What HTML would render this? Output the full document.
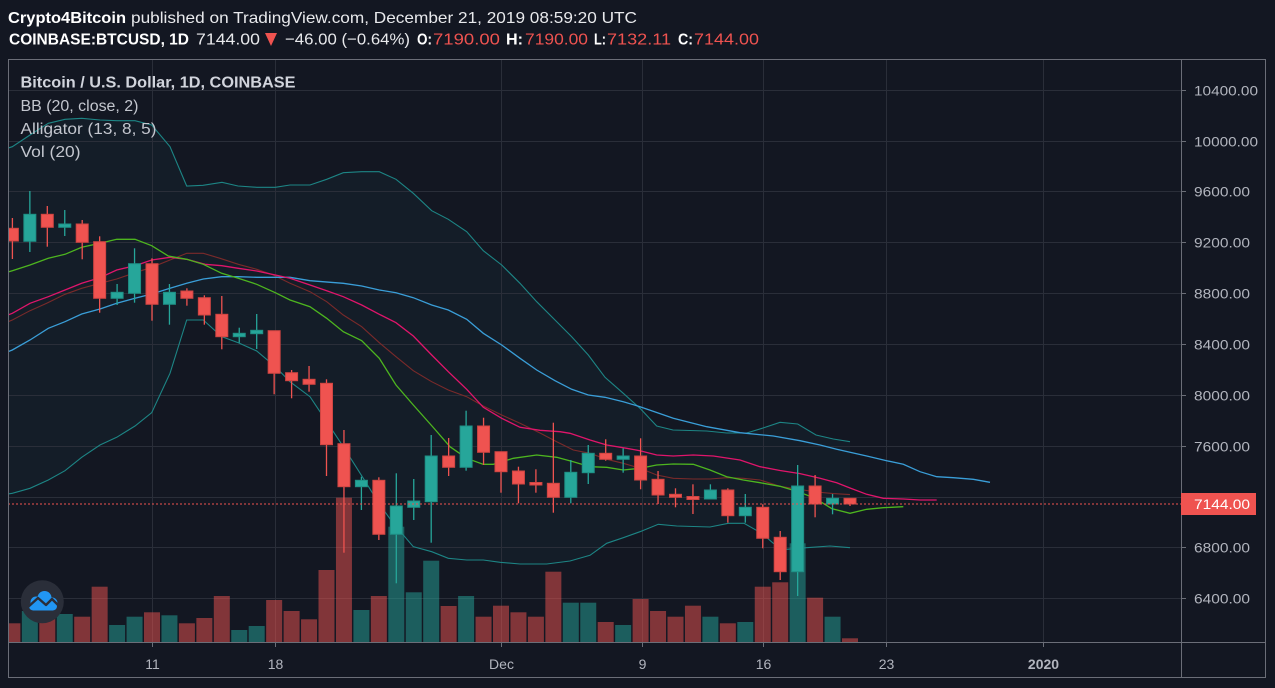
<!DOCTYPE html>
<html><head><meta charset="utf-8"><style>
html,body{margin:0;padding:0;background:#131722;}
svg{display:block;}
text{font-family:"Liberation Sans",sans-serif;}
.u{fill:#26a69a;stroke:#1f8f85;stroke-width:1}
.d{fill:#ef5350;stroke:#cf4542;stroke-width:1}
.uw{stroke:#26a69a;stroke-width:1.3}
.dw{stroke:#ef5350;stroke-width:1.3}
.vu{fill:rgba(38,166,154,0.5)}
.vd{fill:rgba(239,83,80,0.5)}
.g{stroke:#2a2e39;stroke-width:1}
.pl{fill:#b2b5be;font-size:14px}
.tl{fill:#b2b5be;font-size:14px;text-anchor:middle}
</style></head><body>
<svg width="1275" height="688" viewBox="0 0 1275 688" xmlns="http://www.w3.org/2000/svg">
<rect width="1275" height="688" fill="#131722"/>
<defs><clipPath id="pc"><rect x="9" y="60" width="1172" height="582"/></clipPath></defs>

<!-- header -->
<text x="8" y="23" font-size="16" font-weight="bold" fill="#ffffff" textLength="118" lengthAdjust="spacingAndGlyphs">Crypto4Bitcoin</text>
<text x="131" y="23" font-size="16" fill="#e8e9ec" textLength="506" lengthAdjust="spacingAndGlyphs">published on TradingView.com, December 21, 2019 08:59:20 UTC</text>
<text x="9" y="44.5" font-size="16" font-weight="bold" fill="#ffffff" textLength="180" lengthAdjust="spacingAndGlyphs">COINBASE:BTCUSD, 1D</text>
<text x="196" y="44.5" font-size="16" fill="#e8e9ec" textLength="64" lengthAdjust="spacingAndGlyphs">7144.00</text>
<polygon points="265,33 277,33 271,46" fill="#ef5350"/>
<text x="285" y="44.5" font-size="16" fill="#e8e9ec" textLength="125" lengthAdjust="spacingAndGlyphs">−46.00 (−0.64%)</text>
<text x="417" y="44.5" font-size="16" font-weight="bold" fill="#ffffff" textLength="15" lengthAdjust="spacingAndGlyphs">O:</text>
<text x="433" y="44.5" font-size="16" fill="#ef5350" textLength="67" lengthAdjust="spacingAndGlyphs">7190.00</text>
<text x="506" y="44.5" font-size="16" font-weight="bold" fill="#ffffff" textLength="17" lengthAdjust="spacingAndGlyphs">H:</text>
<text x="525" y="44.5" font-size="16" fill="#ef5350" textLength="63" lengthAdjust="spacingAndGlyphs">7190.00</text>
<text x="594" y="44.5" font-size="16" font-weight="bold" fill="#ffffff" textLength="12" lengthAdjust="spacingAndGlyphs">L:</text>
<text x="607" y="44.5" font-size="16" fill="#ef5350" textLength="64" lengthAdjust="spacingAndGlyphs">7132.11</text>
<text x="678" y="44.5" font-size="16" font-weight="bold" fill="#ffffff" textLength="15" lengthAdjust="spacingAndGlyphs">C:</text>
<text x="694" y="44.5" font-size="16" fill="#ef5350" textLength="65" lengthAdjust="spacingAndGlyphs">7144.00</text>

<g clip-path="url(#pc)">
<!-- BB fill -->
<polygon fill="#141d28" points="5,149 12.3,146.7 30,135 48.3,123.3 65,119.3 81.7,118.3 100,120 116.7,120.7 135,120.7 151.7,125 170,146.7 186.7,186 203,185.3 222,182.3 238,186 256.7,187.3 275.3,187.3 290,185 310,185 326.7,179.3 343.3,172.7 361.7,171.7 379.3,171.7 396,179.3 413.3,193.3 431.7,210.7 448.3,219.3 466.7,231.7 483.3,250.7 501.7,265 520,283.3 536.7,301.7 555,320 571.7,336.7 588.3,355 605,377.3 623.3,393.3 640,408.3 656.7,426 673,430 706.7,431 726.7,433 746.7,433 763,428 780,422.3 797.7,424 816,435 833.3,439 850,441.7 850,547.7 830,546 806.7,547.7 786.7,549.3 773.3,543.3 761.7,533.3 744,523.3 728.3,523.3 710,527 676.7,526 658.3,524.3 640,531.7 623.3,537.7 606.7,543.3 590,555.3 570,561 546.7,564 520,564 500,562.3 483.3,560 466.7,560 448.3,558.3 431.7,551.7 413.3,546.7 393.3,523.3 380,505 363.3,478.3 343.3,446.7 326.7,421.7 310,396.7 290,381.7 275.3,366.7 256.7,351 238.3,342.7 221.7,336.7 203.3,320 186.7,320 170,373.3 151.7,412.7 135,426 116.7,437.3 100,445 81.7,457.3 65,470.7 48.3,480 30,488.3 12.3,493.3 5,494.5"/>

<!-- grid -->
<g class="g">
<line x1="8" y1="90.5" x2="1181" y2="90.5"/>
<line x1="8" y1="141.5" x2="1181" y2="141.5"/>
<line x1="8" y1="191.5" x2="1181" y2="191.5"/>
<line x1="8" y1="242.5" x2="1181" y2="242.5"/>
<line x1="8" y1="293.5" x2="1181" y2="293.5"/>
<line x1="8" y1="344.5" x2="1181" y2="344.5"/>
<line x1="8" y1="395.5" x2="1181" y2="395.5"/>
<line x1="8" y1="446.5" x2="1181" y2="446.5"/>
<line x1="8" y1="497.5" x2="1181" y2="497.5"/>
<line x1="8" y1="547.5" x2="1181" y2="547.5"/>
<line x1="8" y1="598.5" x2="1181" y2="598.5"/>
<line x1="152.5" y1="59" x2="152.5" y2="642"/>
<line x1="275.5" y1="59" x2="275.5" y2="642"/>
<line x1="501.5" y1="59" x2="501.5" y2="642"/>
<line x1="642.5" y1="59" x2="642.5" y2="642"/>
<line x1="763.5" y1="59" x2="763.5" y2="642"/>
<line x1="886.5" y1="59" x2="886.5" y2="642"/>
<line x1="1043.5" y1="59" x2="1043.5" y2="642"/>
</g>

<!-- volume -->
<rect class="vd" x="4.4" y="623.3" width="16" height="18.7"/>
<rect class="vu" x="21.85" y="611" width="16" height="31"/>
<rect class="vd" x="39.3" y="616" width="16" height="26"/>
<rect class="vu" x="56.75" y="614" width="16" height="28"/>
<rect class="vd" x="74.2" y="616.7" width="16" height="25.3"/>
<rect class="vd" x="91.65" y="586.7" width="16" height="55.3"/>
<rect class="vu" x="109.1" y="625" width="16" height="17"/>
<rect class="vu" x="126.55" y="616.7" width="16" height="25.3"/>
<rect class="vd" x="144" y="612.3" width="16" height="29.7"/>
<rect class="vu" x="161.45" y="615.3" width="16" height="26.7"/>
<rect class="vd" x="178.9" y="623.3" width="16" height="18.7"/>
<rect class="vd" x="196.35" y="618" width="16" height="24"/>
<rect class="vd" x="213.8" y="596" width="16" height="46"/>
<rect class="vu" x="231.25" y="630" width="16" height="12"/>
<rect class="vu" x="248.7" y="626" width="16" height="16"/>
<rect class="vd" x="266.15" y="600" width="16" height="42"/>
<rect class="vd" x="283.6" y="611" width="16" height="31"/>
<rect class="vd" x="301.05" y="619.3" width="16" height="22.7"/>
<rect class="vd" x="318.5" y="570" width="16" height="72"/>
<rect class="vd" x="335.95" y="497.7" width="16" height="144.3"/>
<rect class="vu" x="353.4" y="610" width="16" height="32"/>
<rect class="vd" x="370.85" y="596" width="16" height="46"/>
<rect class="vu" x="388.3" y="526.7" width="16" height="115.3"/>
<rect class="vu" x="405.75" y="592.3" width="16" height="49.7"/>
<rect class="vu" x="423.2" y="560.7" width="16" height="81.3"/>
<rect class="vd" x="440.65" y="606" width="16" height="36"/>
<rect class="vu" x="458.1" y="596" width="16" height="46"/>
<rect class="vd" x="475.55" y="616.7" width="16" height="25.3"/>
<rect class="vd" x="493" y="605.7" width="16" height="36.3"/>
<rect class="vd" x="510.45" y="612.3" width="16" height="29.7"/>
<rect class="vd" x="527.9" y="616.7" width="16" height="25.3"/>
<rect class="vd" x="545.35" y="571.7" width="16" height="70.3"/>
<rect class="vu" x="562.8" y="602.7" width="16" height="39.3"/>
<rect class="vu" x="580.25" y="602.7" width="16" height="39.3"/>
<rect class="vd" x="597.7" y="622" width="16" height="20"/>
<rect class="vu" x="615.15" y="625" width="16" height="17"/>
<rect class="vd" x="632.6" y="599" width="16" height="43"/>
<rect class="vd" x="650.05" y="611" width="16" height="31"/>
<rect class="vd" x="667.5" y="616.7" width="16" height="25.3"/>
<rect class="vd" x="684.95" y="605.7" width="16" height="36.3"/>
<rect class="vu" x="702.4" y="616.7" width="16" height="25.3"/>
<rect class="vd" x="719.85" y="623.3" width="16" height="18.7"/>
<rect class="vu" x="737.3" y="622" width="16" height="20"/>
<rect class="vd" x="754.75" y="586.7" width="16" height="55.3"/>
<rect class="vd" x="772.2" y="582.3" width="16" height="59.7"/>
<rect class="vu" x="789.65" y="543.3" width="16" height="98.7"/>
<rect class="vd" x="807.1" y="597.7" width="16" height="44.3"/>
<rect class="vu" x="824.55" y="616.7" width="16" height="25.3"/>
<rect class="vd" x="842" y="638.3" width="16" height="3.7"/>

<!-- BB lines -->
<polyline fill="none" stroke="#1d8585" stroke-width="1.1" points="5,149 12.3,146.7 30,135 48.3,123.3 65,119.3 81.7,118.3 100,120 116.7,120.7 135,120.7 151.7,125 170,146.7 186.7,186 203,185.3 222,182.3 238,186 256.7,187.3 275.3,187.3 290,185 310,185 326.7,179.3 343.3,172.7 361.7,171.7 379.3,171.7 396,179.3 413.3,193.3 431.7,210.7 448.3,219.3 466.7,231.7 483.3,250.7 501.7,265 520,283.3 536.7,301.7 555,320 571.7,336.7 588.3,355 605,377.3 623.3,393.3 640,408.3 656.7,426 673,430 706.7,431 726.7,433 746.7,433 763,428 780,422.3 797.7,424 816,435 833.3,439 850,441.7"/>
<polyline fill="none" stroke="#1d8585" stroke-width="1.1" points="5,494.5 12.3,493.3 30,488.3 48.3,480 65,470.7 81.7,457.3 100,445 116.7,437.3 135,426 151.7,412.7 170,373.3 186.7,320 203.3,320 221.7,336.7 238.3,342.7 256.7,351 275.3,366.7 290,381.7 310,396.7 326.7,421.7 343.3,446.7 363.3,478.3 380,505 393.3,523.3 413.3,546.7 431.7,551.7 448.3,558.3 466.7,560 483.3,560 500,562.3 520,564 546.7,564 570,561 590,555.3 606.7,543.3 623.3,537.7 640,531.7 658.3,524.3 676.7,526 710,527 728.3,523.3 744,523.3 761.7,533.3 773.3,543.3 786.7,549.3 806.7,547.7 830,546 850,547.7"/>
<polyline fill="none" stroke="#7a2a2a" stroke-width="1.1" points="5,323 12.3,320 30,310.7 46.7,303.3 65,294.3 81.7,288.3 100,283.3 116.7,279 135,272.7 151.7,267.3 170,260 186.7,253.3 203.3,253.3 220,258.3 238.3,264.3 256.7,269.3 273.3,275 290,283.3 310,291.7 326.7,301.7 343.3,315 361.7,326.7 379.3,342.7 396,356.7 413.3,370.7 431.7,381.7 448.3,390 466.7,396.7 483.3,406 501.7,415 520,423.3 540,433 556.7,441.7 573.3,450 590,453.3 606.7,459.3 623.3,463.3 640,468.3 656.7,475 673.3,478.3 693.3,479 710,479 726.7,477.7 743.3,478.3 760,480 780,486.3 800,489.5 816.7,492 833.3,493.6 850,494.6"/>

<!-- Alligator -->
<polyline fill="none" stroke="#3a9ed8" stroke-width="1.3" points="5,353 12.3,350 30,340 48.3,328.3 65,321.7 81.7,314 100,309 116.7,303.3 135,298.3 151.7,294 170,288.3 186.7,283.3 203.3,279 221.7,276.7 238.3,276.7 256.7,277.3 275.3,277.3 290,277.3 310,280.7 343.3,283.3 361.7,286 379.3,290 396,292.7 413.3,297.7 431.7,305 448.3,310 466.7,319.3 483.3,333.3 501.7,345 520,358.3 536.7,370 555,380.7 571.7,389.3 588.3,395 605,397.3 623.3,401.7 640,406.7 656.7,412.5 673.3,418.3 706.7,426.7 740,432.7 773.3,436 800,440.7 820,445 836.7,449.3 850,452.3 866.7,456 886.7,460.7 903.3,464.3 920,471.7 936.7,476.7 953.3,477.7 973.3,479.3 990,482.3"/>
<polyline fill="none" stroke="#e0156b" stroke-width="1.3" points="5,316 12.3,313.3 30,303.3 48.3,296.7 65,290 81.7,283.3 100,277.7 116.7,270 135,265.7 151.7,260 170,257.3 186.7,259.3 205,264.3 221.7,265.7 238.3,268.3 256.7,271 275.3,275 290,278.3 310,285 326.7,290.7 343.3,296.7 361.7,305 379.3,314.3 396,322.7 413.3,336 431.7,355 448.3,371.7 466.7,389.3 483.3,407.3 501.7,418.3 520,427.3 540,430.3 560,431.7 570,433.3 590,440 606.7,445 626.7,448.3 640,450.7 656.7,455 673.3,456 693.3,455 713.3,456 740,460 760,466.7 780,470.5 800,473.6 820,478.3 836.7,482.8 850,488 866.7,494.3 883.3,498.3 903.3,499 920,500 936.7,500"/>
<polyline fill="none" stroke="#4db51f" stroke-width="1.3" points="5,273 12.3,270.7 30,265 48.3,258.3 65,254.3 81.7,247.3 100,243.3 116.7,239.3 135,239.3 151.7,245.7 168.3,256 186.7,259.3 203.3,264.3 221.7,273.3 238.3,278.3 256.7,284.3 275.3,292.7 290,300 310,306.7 326.7,318.3 343.3,331.7 361.7,340.7 379.3,358.3 396,385 413.3,405 433.3,427.5 450,446.7 466.7,458.3 483.3,464.3 493.3,464.3 513.3,458.3 536.7,455 556.7,457.3 573.3,461.7 590,466.7 606.7,467.3 623.3,470 640,468.3 656.7,465 673.3,464 693.3,464.3 710,470 726.7,476.7 743.3,480 760,482.7 780,486.3 798.3,491.7 815,498.3 831.7,508.6 850,513.3 866.7,509.3 883.3,507.7 903.3,506.7"/>

<!-- candles: wicks -->
<line class="dw" x1="12.4" y1="218" x2="12.4" y2="259"/>
<line class="uw" x1="29.85" y1="191" x2="29.85" y2="252"/>
<line class="dw" x1="47.3" y1="206" x2="47.3" y2="246.7"/>
<line class="uw" x1="64.75" y1="210" x2="64.75" y2="236"/>
<line class="dw" x1="82.2" y1="220" x2="82.2" y2="259.3"/>
<line class="dw" x1="99.65" y1="236.3" x2="99.65" y2="312.7"/>
<line class="uw" x1="117.1" y1="284" x2="117.1" y2="305"/>
<line class="uw" x1="134.55" y1="248.3" x2="134.55" y2="302.7"/>
<line class="dw" x1="152" y1="258.3" x2="152" y2="320.7"/>
<line class="uw" x1="169.45" y1="284" x2="169.45" y2="324.7"/>
<line class="dw" x1="186.9" y1="288.3" x2="186.9" y2="305.7"/>
<line class="dw" x1="204.35" y1="295.3" x2="204.35" y2="324.7"/>
<line class="dw" x1="221.8" y1="296" x2="221.8" y2="349.3"/>
<line class="uw" x1="239.25" y1="327.7" x2="239.25" y2="342.7"/>
<line class="uw" x1="256.7" y1="314" x2="256.7" y2="349"/>
<line class="dw" x1="274.15" y1="330.7" x2="274.15" y2="394.3"/>
<line class="dw" x1="291.6" y1="370" x2="291.6" y2="398.3"/>
<line class="dw" x1="309.05" y1="366" x2="309.05" y2="391.7"/>
<line class="dw" x1="326.5" y1="379.3" x2="326.5" y2="476"/>
<line class="dw" x1="343.95" y1="430" x2="343.95" y2="552.7"/>
<line class="uw" x1="361.4" y1="476.7" x2="361.4" y2="510"/>
<line class="dw" x1="378.85" y1="477.3" x2="378.85" y2="540"/>
<line class="uw" x1="396.3" y1="473.3" x2="396.3" y2="583.3"/>
<line class="uw" x1="413.75" y1="479" x2="413.75" y2="520"/>
<line class="uw" x1="431.2" y1="435" x2="431.2" y2="542.7"/>
<line class="dw" x1="448.65" y1="438" x2="448.65" y2="476"/>
<line class="uw" x1="466.1" y1="410.7" x2="466.1" y2="470.7"/>
<line class="dw" x1="483.55" y1="417.7" x2="483.55" y2="465"/>
<line class="dw" x1="501" y1="451.7" x2="501" y2="492.7"/>
<line class="dw" x1="518.45" y1="466.7" x2="518.45" y2="503.3"/>
<line class="dw" x1="535.9" y1="469.3" x2="535.9" y2="492.7"/>
<line class="dw" x1="553.35" y1="422.7" x2="553.35" y2="512.7"/>
<line class="uw" x1="570.8" y1="460" x2="570.8" y2="503.3"/>
<line class="uw" x1="588.25" y1="445" x2="588.25" y2="484"/>
<line class="dw" x1="605.7" y1="439.3" x2="605.7" y2="460.7"/>
<line class="uw" x1="623.15" y1="448.3" x2="623.15" y2="472.7"/>
<line class="dw" x1="640.6" y1="438.3" x2="640.6" y2="489.3"/>
<line class="dw" x1="658.05" y1="471" x2="658.05" y2="504"/>
<line class="dw" x1="675.5" y1="488.3" x2="675.5" y2="507.3"/>
<line class="dw" x1="692.95" y1="484.3" x2="692.95" y2="514"/>
<line class="uw" x1="710.4" y1="484.3" x2="710.4" y2="499"/>
<line class="dw" x1="727.85" y1="488.3" x2="727.85" y2="522.7"/>
<line class="uw" x1="745.3" y1="494" x2="745.3" y2="522.7"/>
<line class="dw" x1="762.75" y1="504.3" x2="762.75" y2="548.3"/>
<line class="dw" x1="780.2" y1="531" x2="780.2" y2="580"/>
<line class="uw" x1="797.65" y1="465" x2="797.65" y2="596"/>
<line class="dw" x1="815.1" y1="475" x2="815.1" y2="517.3"/>
<line class="uw" x1="832.55" y1="494" x2="832.55" y2="514.3"/>
<line class="dw" x1="850" y1="498.3" x2="850" y2="506"/>

<!-- candles: bodies -->
<rect class="d" x="6.4" y="228.3" width="12" height="12.7"/>
<rect class="u" x="23.85" y="214.3" width="12" height="27"/>
<rect class="d" x="41.3" y="214.3" width="12" height="13"/>
<rect class="u" x="58.75" y="224" width="12" height="3.3"/>
<rect class="d" x="76.2" y="224" width="12" height="18.3"/>
<rect class="d" x="93.65" y="241.7" width="12" height="56.6"/>
<rect class="u" x="111.1" y="292.3" width="12" height="6"/>
<rect class="u" x="128.55" y="263.7" width="12" height="29.6"/>
<rect class="d" x="146" y="263.7" width="12" height="40.6"/>
<rect class="u" x="163.45" y="292.3" width="12" height="12"/>
<rect class="d" x="180.9" y="291" width="12" height="7.3"/>
<rect class="d" x="198.35" y="297.7" width="12" height="17.3"/>
<rect class="d" x="215.8" y="314.3" width="12" height="22.4"/>
<rect class="u" x="233.25" y="333.3" width="12" height="3.4"/>
<rect class="u" x="250.7" y="330.3" width="12" height="3.4"/>
<rect class="d" x="268.15" y="330.7" width="12" height="42.6"/>
<rect class="d" x="285.6" y="372.7" width="12" height="8"/>
<rect class="d" x="303.05" y="379.3" width="12" height="5"/>
<rect class="d" x="320.5" y="383.3" width="12" height="61.4"/>
<rect class="d" x="337.95" y="443.7" width="12" height="43"/>
<rect class="u" x="355.4" y="480.3" width="12" height="6.4"/>
<rect class="d" x="372.85" y="480.3" width="12" height="54"/>
<rect class="u" x="390.3" y="506" width="12" height="28.3"/>
<rect class="u" x="407.75" y="501" width="12" height="6.3"/>
<rect class="u" x="425.2" y="456" width="12" height="45.7"/>
<rect class="d" x="442.65" y="456" width="12" height="11.3"/>
<rect class="u" x="460.1" y="426" width="12" height="41.3"/>
<rect class="d" x="477.55" y="426" width="12" height="26.3"/>
<rect class="d" x="495" y="451.7" width="12" height="20"/>
<rect class="d" x="512.45" y="471" width="12" height="13"/>
<rect class="d" x="529.9" y="482.5" width="12" height="2.5"/>
<rect class="d" x="547.35" y="483.3" width="12" height="14"/>
<rect class="u" x="564.8" y="472.3" width="12" height="25"/>
<rect class="u" x="582.25" y="453.3" width="12" height="19.4"/>
<rect class="d" x="599.7" y="453.3" width="12" height="6"/>
<rect class="u" x="617.15" y="456" width="12" height="3.3"/>
<rect class="d" x="634.6" y="456" width="12" height="24"/>
<rect class="d" x="652.05" y="479.3" width="12" height="15.7"/>
<rect class="d" x="669.5" y="494.3" width="12" height="3"/>
<rect class="d" x="686.95" y="496.5" width="12" height="3"/>
<rect class="u" x="704.4" y="490" width="12" height="9"/>
<rect class="d" x="721.85" y="490" width="12" height="25.7"/>
<rect class="u" x="739.3" y="507.3" width="12" height="8.4"/>
<rect class="d" x="756.75" y="507.3" width="12" height="31"/>
<rect class="d" x="774.2" y="537.3" width="12" height="34.4"/>
<rect class="u" x="791.65" y="486" width="12" height="85.7"/>
<rect class="d" x="809.1" y="486" width="12" height="18"/>
<rect class="u" x="826.55" y="498.3" width="12" height="5.7"/>
<rect class="d" x="844" y="498.3" width="12" height="5.7"/>

<!-- last price line -->
<line x1="8" y1="504" x2="1181" y2="504" stroke="#ef5350" stroke-width="1" stroke-dasharray="2 2"/>
</g>

<!-- logo -->
<circle cx="42.3" cy="601.7" r="21.5" fill="#2a2e39"/>
<g fill="#2196f3">
<circle cx="36" cy="602" r="5.5"/>
<circle cx="44.5" cy="598" r="7"/>
<circle cx="52" cy="603" r="5.5"/>
<rect x="29" y="602" width="28" height="8.5" rx="4.2"/>
</g>
<polyline points="28,607 38,598 46,605 52,599 58,605" fill="none" stroke="#2a2e39" stroke-width="2.4" stroke-linejoin="round"/>

<!-- legend -->
<text x="20.5" y="87.5" font-size="15.5" font-weight="bold" fill="#d1d4dc" textLength="275" lengthAdjust="spacingAndGlyphs">Bitcoin / U.S. Dollar, 1D, COINBASE</text>
<text x="20.5" y="111" font-size="15.5" fill="#c3c6ce" textLength="118" lengthAdjust="spacingAndGlyphs">BB (20, close, 2)</text>
<text x="20.5" y="134" font-size="15.5" fill="#c3c6ce" textLength="136" lengthAdjust="spacingAndGlyphs">Alligator (13, 8, 5)</text>
<text x="20.5" y="157" font-size="15.5" fill="#c3c6ce" textLength="60" lengthAdjust="spacingAndGlyphs">Vol (20)</text>

<!-- frame -->
<g stroke="#6b6e78" stroke-width="1" fill="none">
<rect x="8.5" y="59.5" width="1257" height="618"/>
<line x1="1181.5" y1="59" x2="1181.5" y2="678"/>
<line x1="8" y1="642.5" x2="1266" y2="642.5"/>
</g>

<!-- price axis -->
<g stroke="#6b6e78" stroke-width="1">
<line x1="1181" y1="90.5" x2="1186" y2="90.5"/>
<line x1="1181" y1="141.5" x2="1186" y2="141.5"/>
<line x1="1181" y1="191.5" x2="1186" y2="191.5"/>
<line x1="1181" y1="242.5" x2="1186" y2="242.5"/>
<line x1="1181" y1="293.5" x2="1186" y2="293.5"/>
<line x1="1181" y1="344.5" x2="1186" y2="344.5"/>
<line x1="1181" y1="395.5" x2="1186" y2="395.5"/>
<line x1="1181" y1="446.5" x2="1186" y2="446.5"/>
<line x1="1181" y1="547.5" x2="1186" y2="547.5"/>
<line x1="1181" y1="598.5" x2="1186" y2="598.5"/>
<line x1="152.5" y1="643" x2="152.5" y2="647"/>
<line x1="275.5" y1="643" x2="275.5" y2="647"/>
<line x1="501.5" y1="643" x2="501.5" y2="647"/>
<line x1="642.5" y1="643" x2="642.5" y2="647"/>
<line x1="763.5" y1="643" x2="763.5" y2="647"/>
<line x1="886.5" y1="643" x2="886.5" y2="647"/>
<line x1="1043.5" y1="643" x2="1043.5" y2="647"/>
</g>
<text class="pl" x="1194" y="95.5" textLength="64" lengthAdjust="spacingAndGlyphs">10400.00</text>
<text class="pl" x="1194" y="146.5" textLength="64" lengthAdjust="spacingAndGlyphs">10000.00</text>
<text class="pl" x="1194" y="196.5" textLength="56" lengthAdjust="spacingAndGlyphs">9600.00</text>
<text class="pl" x="1194" y="247.5" textLength="56" lengthAdjust="spacingAndGlyphs">9200.00</text>
<text class="pl" x="1194" y="298.5" textLength="56" lengthAdjust="spacingAndGlyphs">8800.00</text>
<text class="pl" x="1194" y="349.5" textLength="56" lengthAdjust="spacingAndGlyphs">8400.00</text>
<text class="pl" x="1194" y="400.5" textLength="56" lengthAdjust="spacingAndGlyphs">8000.00</text>
<text class="pl" x="1194" y="451.5" textLength="56" lengthAdjust="spacingAndGlyphs">7600.00</text>
<text class="pl" x="1194" y="552.5" textLength="56" lengthAdjust="spacingAndGlyphs">6800.00</text>
<text class="pl" x="1194" y="603.5" textLength="56" lengthAdjust="spacingAndGlyphs">6400.00</text>
<rect x="1181" y="493" width="75" height="22" fill="#ef5350"/>
<text x="1194" y="509" font-size="14" fill="#ffffff" textLength="56" lengthAdjust="spacingAndGlyphs">7144.00</text>

<!-- time axis -->
<text class="tl" x="152.5" y="669">11</text>
<text class="tl" x="275.5" y="669">18</text>
<text class="tl" x="501.5" y="669">Dec</text>
<text class="tl" x="642.5" y="669">9</text>
<text class="tl" x="763.5" y="669">16</text>
<text class="tl" x="886.5" y="669">23</text>
<text class="tl" x="1043.5" y="669" font-weight="bold" fill="#d1d4dc">2020</text>
</svg>
</body></html>
